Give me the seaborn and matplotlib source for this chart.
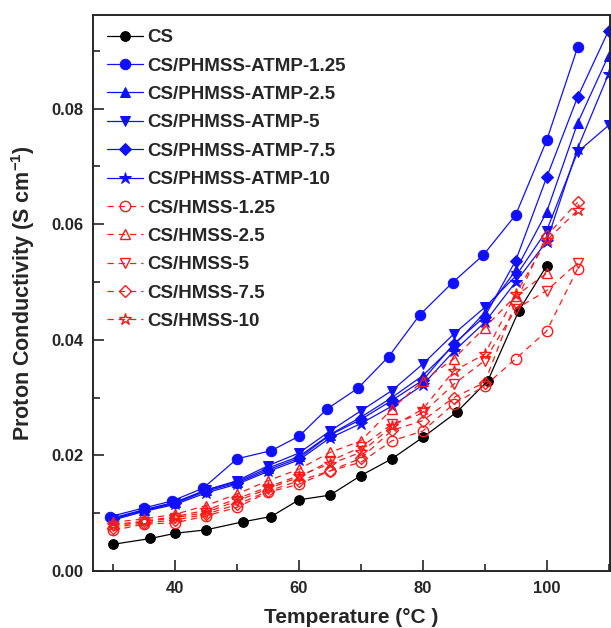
import numpy as np
import pandas as pd
import matplotlib
matplotlib.use("Agg")
import matplotlib.pyplot as plt
import seaborn as sns
from matplotlib.ticker import MultipleLocator

# Data
T_cs = [30, 36, 40, 45, 51, 55.5, 60, 65, 70, 75, 80, 85.5, 90.5, 95.5, 100]
cs = [0.0046, 0.0056, 0.0065, 0.0071, 0.0085, 0.0094, 0.0123, 0.0131, 0.0165,
      0.0194, 0.0231, 0.0275, 0.0329, 0.0450, 0.0528]

T_p125 = [29.5, 35, 39.5, 44.5, 50, 55.5, 60, 64.5, 69.5, 74.5, 79.5, 84.8, 89.8, 95, 100, 105]
p125 = [0.0094, 0.0109, 0.0121, 0.0143, 0.0194, 0.0208, 0.0233, 0.0280, 0.0316,
        0.0371, 0.0443, 0.0499, 0.0547, 0.0616, 0.0745, 0.0906]

T_p = [30, 35, 40, 45, 50, 55, 60, 65, 70, 75, 80, 85, 90, 95, 100, 105, 110]
p25 = [0.0092, 0.0106, 0.0119, 0.0140, 0.0154, 0.0178, 0.0198, 0.0236, 0.0266,
       0.0300, 0.0338, 0.0390, 0.0447, 0.0520, 0.0621, 0.0775, 0.0892]
p5 = [0.0090, 0.0105, 0.0118, 0.0140, 0.0156, 0.0182, 0.0204, 0.0242, 0.0277,
      0.0312, 0.0358, 0.0410, 0.0456, 0.0510, 0.0589, 0.0725, 0.0771]
p75 = [0.0090, 0.0104, 0.0117, 0.0138, 0.0152, 0.0175, 0.0195, 0.0235, 0.0262,
       0.0295, 0.0330, 0.0393, 0.0440, 0.0537, 0.0681, 0.0820, 0.0935]
p10 = [0.0088, 0.0103, 0.0115, 0.0135, 0.0150, 0.0172, 0.0192, 0.0230, 0.0255,
       0.0285, 0.0322, 0.0380, 0.0430, 0.0500, 0.0570, 0.0731, 0.0860]

T_h = [30, 35, 40, 45, 50, 55, 60, 65, 70, 75, 80, 85, 90, 95, 100, 105]
h125 = [0.0070, 0.0081, 0.0083, 0.0095, 0.0110, 0.0136, 0.0150, 0.0173, 0.0188,
        0.0225, 0.0242, 0.0289, 0.0320, 0.0367, 0.0415, 0.0523]
h25 = [0.0084, 0.0090, 0.0098, 0.0113, 0.0133, 0.0156, 0.0176, 0.0205, 0.0225,
       0.0280, 0.0329, 0.0367, 0.0421, 0.0476, 0.0515]
h5 = [0.0078, 0.0085, 0.0092, 0.0101, 0.0121, 0.0142, 0.0162, 0.0190, 0.0214,
      0.0254, 0.0273, 0.0323, 0.0364, 0.0453, 0.0485, 0.0533]
h75 = [0.0075, 0.0083, 0.0088, 0.0098, 0.0115, 0.0138, 0.0156, 0.0173, 0.0195,
       0.0243, 0.0260, 0.0300, 0.0326, 0.0465, 0.0580, 0.0638]
h10 = [0.0080, 0.0086, 0.0094, 0.0105, 0.0125, 0.0145, 0.0165, 0.0185, 0.0205,
       0.0250, 0.0280, 0.0346, 0.0375, 0.0479, 0.0572, 0.0624]

sns.set_style("ticks")
plt.rcParams['font.family'] = ['Liberation Sans', 'DejaVu Sans']
plt.rcParams['font.weight'] = 'bold'
plt.rcParams['mathtext.fontset'] = 'custom'
plt.rcParams['mathtext.rm'] = 'Liberation Sans:bold'
plt.rcParams['mathtext.bf'] = 'Liberation Sans:bold'

fig = plt.figure(figsize=(6.11, 6.28), dpi=100)
ax = fig.add_axes([0.152, 0.091, 0.846, 0.885])

blue = '#1010ff'
red = '#ff1a1a'

# CS
sns.lineplot(x=T_cs, y=cs, ax=ax, color='black', marker='o', markersize=7,
             markeredgecolor='black', linewidth=0.9, label='CS')

# PHMSS-ATMP series (filled blue)
filled = [(T_p125, p125, 'o', 7.5, 'CS/PHMSS-ATMP-1.25'),
          (T_p[:len(p25)], p25, '^', 7.5, 'CS/PHMSS-ATMP-2.5'),
          (T_p, p5, 'v', 7.5, 'CS/PHMSS-ATMP-5'),
          (T_p, p75, 'D', 6.5, 'CS/PHMSS-ATMP-7.5'),
          (T_p, p10, '*', 9, 'CS/PHMSS-ATMP-10')]
for xs, ys, mk, ms, lab in filled:
    sns.lineplot(x=xs, y=ys, ax=ax, color=blue, marker=mk, markersize=ms,
                 markeredgecolor=blue, markerfacecolor=blue, linewidth=0.9,
                 label=lab)

# HMSS series (open red, dashed)
opened = [(T_h, h125, 'o', 7.5, 'CS/HMSS-1.25'),
          (T_h[:len(h25)], h25, '^', 7.5, 'CS/HMSS-2.5'),
          (T_h, h5, 'v', 7.5, 'CS/HMSS-5'),
          (T_h, h75, 'D', 6.5, 'CS/HMSS-7.5'),
          (T_h, h10, '*', 9, 'CS/HMSS-10')]
for xs, ys, mk, ms, lab in opened:
    sns.lineplot(x=xs, y=ys, ax=ax, color=red, marker=mk, markersize=ms,
                 markeredgecolor=red, markerfacecolor='none',
                 markeredgewidth=1.0, linewidth=0.9, linestyle=(0, (5, 4)),
                 label=lab)

ax.set_xlim(26.7, 110.2)
ax.set_ylim(0, 0.0962)
ax.xaxis.set_major_locator(MultipleLocator(20))
ax.xaxis.set_minor_locator(MultipleLocator(10))
ax.yaxis.set_major_locator(MultipleLocator(0.02))
ax.yaxis.set_minor_locator(MultipleLocator(0.01))
ax.yaxis.set_major_formatter(matplotlib.ticker.FormatStrFormatter('%.2f'))
ax.tick_params(which='both', direction='in', width=1.2, labelsize=12, pad=7)
ax.tick_params(which='major', length=8)
ax.tick_params(which='minor', length=5)
for s in ax.spines.values():
    s.set_linewidth(1.4)

ax.set_xlabel('Temperature (°C )', fontsize=15, fontweight='bold', labelpad=9)
ax.set_ylabel('Proton Conductivity (S cm$^{-1}$)', fontsize=15.5,
              fontweight='bold', labelpad=10)

leg = ax.legend(loc='upper left', frameon=False, fontsize=13.5,
                labelspacing=0.6, handlelength=1.9, handletextpad=0.27,
                borderaxespad=0.35, bbox_to_anchor=(0.0, 1.0))
for t in leg.get_texts():
    t.set_fontweight('bold')

fig.savefig('out.png', dpi=100)
